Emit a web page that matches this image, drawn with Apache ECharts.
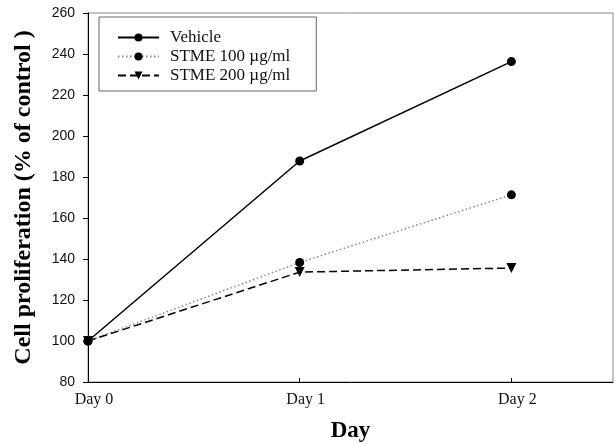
<!DOCTYPE html>
<html><head><meta charset="utf-8">
<script src="https://cdn.jsdelivr.net/npm/echarts@6/dist/echarts.min.js"></script>
<style>html,body{margin:0;padding:0;background:#fff}#c{width:615px;height:444px}</style>
</head><body><div id="c"></div>
<script>
const dayLabels = ['Day 0', 'Day 1', 'Day 2'];
const dayValues = [0, 1, 2];
const seriesNames = ['Vehicle', 'STME 100 \u00b5g/ml', 'STME 200 \u00b5g/ml'];
const vehicle = [100, 187.8, 236.3];
const stme100 = [100, 138.3, 171.3];
const stme200 = [100, 133.6, 135.6];
const yTicks = [80, 100, 120, 140, 160, 180, 200, 220, 240, 260];

const pts = arr => dayValues.map((d, i) => [d, arr[i]]);
const chart = echarts.init(document.getElementById('c'), null, {renderer: 'canvas'});
chart.setOption({
  animation: false,
  grid: {left: 88, top: 13, right: 2, bottom: 62, show: true, borderColor: '#888', borderWidth: 1,
         containLabel: false, outerBoundsMode: 'none'},
  legend: {
    orient: 'vertical', left: 99, top: 17,
    padding: [12, 26, 7, 18], borderColor: '#666', borderWidth: 1,
    itemWidth: 41, itemHeight: 10, itemGap: 2,
    textStyle: {fontFamily: 'Liberation Serif', fontSize: 17, color: '#111', padding: [0, 0, 0, 6]},
    data: seriesNames
  },
  xAxis: {
    type: 'value', min: 0, max: 2.48, interval: 1,
    name: 'Day', nameLocation: 'middle', nameGap: 38,
    nameTextStyle: {fontFamily: 'Liberation Serif', fontWeight: 'bold', fontSize: 23, color: '#000'},
    axisLine: {lineStyle: {color: '#000', width: 1}},
    axisTick: {inside: true, length: 4, customValues: dayValues, lineStyle: {color: '#000'}},
    splitLine: {show: false},
    axisLabel: {customValues: dayValues, margin: 10, padding: [0, 0, 0, 12], fontFamily: 'Liberation Serif', fontSize: 16, color: '#111',
      formatter: v => dayLabels[Math.round(v)] || ''}
  },
  yAxis: {
    type: 'value', min: 80, max: 260, interval: 20,
    name: 'Cell proliferation (% of control )', nameLocation: 'middle', nameGap: 52,
    nameTextStyle: {fontFamily: 'Liberation Serif', fontWeight: 'bold', fontSize: 24, color: '#000'},
    axisLine: {show: true, lineStyle: {color: '#000', width: 1}},
    axisTick: {show: true, inside: false, length: 5, lineStyle: {color: '#000'}},
    splitLine: {show: false},
    axisLabel: {margin: 13, fontFamily: 'Liberation Sans', fontSize: 14, color: '#111',
      formatter: v => yTicks.includes(v) ? String(v) : ''}
  },
  series: [
    {name: seriesNames[0], type: 'line', data: pts(vehicle), symbol: 'circle', symbolSize: 9,
     itemStyle: {color: '#000'}, lineStyle: {color: '#000', width: 1.5, type: 'solid'}},
    {name: seriesNames[1], type: 'line', data: pts(stme100), symbol: 'circle', symbolSize: 9,
     itemStyle: {color: '#000'}, lineStyle: {color: '#888', width: 1.5, type: [1.5, 2.5]}},
    {name: seriesNames[2], type: 'line', data: pts(stme200), symbol: 'triangle', symbolRotate: 180, symbolSize: 10,
     itemStyle: {color: '#000'}, lineStyle: {color: '#000', width: 1.5, type: [8, 4]}}
  ]
});
</script></body></html>
